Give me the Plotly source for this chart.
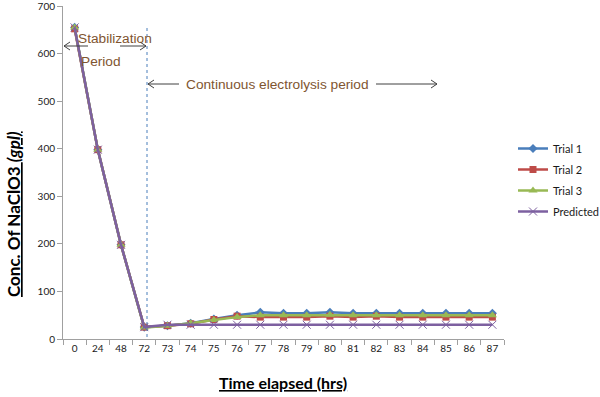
import plotly.graph_objects as go

time_labels = ["0", "24", "48", "72", "73", "74", "75", "76", "77", "78",
               "79", "80", "81", "82", "83", "84", "85", "86", "87"]
trial1 = [655, 398, 198, 25, 28, 33, 42, 50, 56, 54, 54, 56, 54, 54, 54, 54, 54, 54, 54]
trial2 = [652, 398, 198, 25, 28, 32, 41, 48, 46, 46, 46, 48, 46, 48, 46, 46, 46, 46, 46]
trial3 = [655, 398, 198, 24, 28, 33, 40, 46, 50, 50, 50, 51, 50, 50, 50, 50, 50, 50, 50]
predicted = [655, 398, 198, 25, 30, 30, 30, 30, 30, 30, 30, 30, 30, 30, 30, 30, 30, 30, 30]

W, H = 600, 397
L, R, T, B = 63, 504, 6, 339


def px(x):
    return (x - L) / (R - L)


def py(y):
    return (B - y) / (B - T)


fig = go.Figure()
series = [
    ("Trial 1", trial1, "#4A7EBB", dict(symbol="diamond", size=7)),
    ("Trial 2", trial2, "#BE4B48", dict(symbol="square", size=7)),
    ("Trial 3", trial3, "#98B954", dict(symbol="triangle-up", size=8)),
    ("Predicted", predicted, "#7D60A0", dict(symbol="x-thin", size=8, line=dict(width=1, color="#7D60A0"))),
]
for name, vals, col, mk in series:
    fig.add_trace(go.Scatter(x=time_labels, y=vals, name=name, mode="lines+markers",
                             legendgroup=name,
                             line=dict(color=col, width=2.5),
                             marker=dict(color=col, **mk)))

shapes = []
# vertical dotted separator
shapes.append(dict(type="line", xref="paper", yref="paper", x0=px(147), x1=px(147),
                   y0=py(28), y1=py(339), line=dict(color="#4A7EBB", width=1, dash="dot")))


def arrow(x_tail, x_head, y):
    d = 6 if x_head > x_tail else -6
    path = (f"M {px(x_tail)} {py(y)} L {px(x_head)} {py(y)} "
            f"M {px(x_head - d)} {py(y - 4)} L {px(x_head)} {py(y)} L {px(x_head - d)} {py(y + 4)}")
    return dict(type="path", xref="paper", yref="paper", path=path,
                line=dict(color="#404040", width=1))


shapes += [arrow(88, 64, 46), arrow(120, 146, 46), arrow(179, 148, 84), arrow(376, 437, 84)]

brown = "#7F5530"
ann_font = dict(family="Liberation Sans, Arial", size=13.7, color=brown)
common = dict(xref="paper", yref="paper", showarrow=False, xanchor="center", yanchor="middle")
annotations = [
    dict(text="Stabilization", x=px(115), y=py(38), font=ann_font, **common),
    dict(text="Period", x=px(101), y=py(62), font=ann_font, **common),
    dict(text="Continuous electrolysis period", x=px(277), y=py(84), font=ann_font, **common),
    dict(text="<b><u>Conc. Of NaClO3 <i>(gpl)</i></u></b>", x=px(13), y=py(214), textangle=-90,
         font=dict(family="Lato, Open Sans", size=17, color="#000000"), **common),
    dict(text="<b><u>Time elapsed (hrs)</u></b>", x=px(283), y=py(383),
         font=dict(family="Lato, Open Sans", size=16, color="#000000"), **common),
]

tick_font = dict(family="Lato, Open Sans", size=10, color="#1a1a1a")
fig.update_layout(
    width=W, height=H,
    margin=dict(l=L, r=W - R, t=T, b=H - B, autoexpand=False),
    paper_bgcolor="white", plot_bgcolor="white",
    shapes=shapes, annotations=annotations,
    legend=dict(x=513 / W, y=1 - 134 / H, xref="container", yref="container",
                xanchor="left", yanchor="top",
                font=dict(family="Lato, Open Sans", size=11, color="#1a1a1a"),
                tracegroupgap=2, itemwidth=30, bgcolor="rgba(0,0,0,0)"),
    showlegend=True,
)
fig.update_xaxes(type="category", range=[-0.5, len(time_labels) - 0.5], autorange=False,
                 showgrid=False, showline=True, linecolor="#A0A0A0", linewidth=1,
                 ticks="outside", tickson="boundaries", ticklen=5, tickcolor="#A0A0A0",
                 tickangle=0, automargin=False,
                 tickfont=tick_font, zeroline=False)
fig.update_yaxes(range=[0, 700], dtick=100, showgrid=False, showline=True, linecolor="#A0A0A0",
                 linewidth=1, ticks="outside", ticklen=5, tickcolor="#A0A0A0", automargin=False,
                 ticklabeloverflow="allow",
                 tickfont=tick_font, zeroline=False)

fig.write_html("out.html", config={"displayModeBar": False},
               post_script="document.body.style.margin='0';")
